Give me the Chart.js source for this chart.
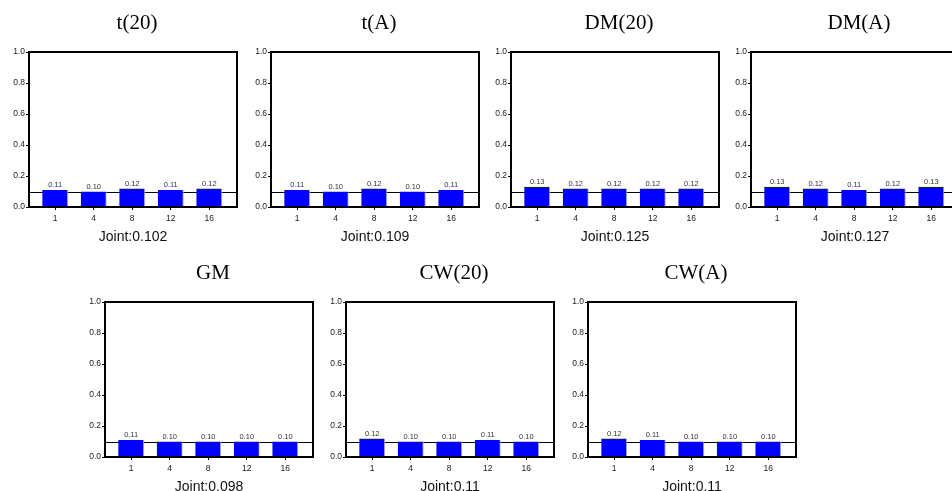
<!DOCTYPE html>
<html>
<head>
<meta charset="utf-8">
<script src="https://cdn.jsdelivr.net/npm/chart.js@4.4.0/dist/chart.umd.min.js"></script>
<style>
  html, body { margin: 0; padding: 0; background: #fff; width: 952px; height: 491px; overflow: hidden; }
  .panel { position: absolute; width: 240px; height: 250px; }
</style>
</head>
<body>
<div id="wrap"></div>
<script>
// lags on the x axis
const LAGS = ["1", "4", "8", "12", "16"];
const Y_TICKS = [0, 0.2, 0.4, 0.6, 0.8, 1.0];
const REF_LEVEL = 0.1;

const TITLES = ["t(20)", "t(A)", "DM(20)", "DM(A)", "GM", "CW(20)", "CW(A)"];
const JOINT = ["0.102", "0.109", "0.125", "0.127", "0.098", "0.11", "0.11"];

const T20 = [0.11, 0.10, 0.12, 0.11, 0.12];
const TA = [0.11, 0.10, 0.12, 0.10, 0.11];
const DM20 = [0.13, 0.12, 0.12, 0.12, 0.12];
const DMA = [0.13, 0.12, 0.11, 0.12, 0.13];
const GM = [0.11, 0.10, 0.10, 0.10, 0.10];
const CW20 = [0.12, 0.10, 0.10, 0.11, 0.10];
const CWA = [0.12, 0.11, 0.10, 0.10, 0.10];

const SERIES = [T20, TA, DM20, DMA, GM, CW20, CWA];

// plot-area left edge and row top for each panel
const PANEL_POS = [
  [29, 0], [271, 0], [511, 0], [751, 0],
  [105, 250], [346, 250], [588, 250]
];

const SANS = "'Liberation Sans', Arial, sans-serif";
const SERIF = "'Liberation Serif', 'Times New Roman', serif";

const frameAndText = {
  id: "frameAndText",
  beforeDatasetsDraw(chart) {
    const { ctx, chartArea, scales } = chart;
    const y = Math.round(scales.y.getPixelForValue(REF_LEVEL)) + 0.5;
    ctx.save();
    ctx.strokeStyle = "#000";
    ctx.lineWidth = 1;
    ctx.beginPath();
    ctx.moveTo(chartArea.left, y);
    ctx.lineTo(chartArea.right, y);
    ctx.stroke();
    ctx.restore();
  },
  afterDatasetsDraw(chart) {
    const { ctx } = chart;
    const meta = chart.getDatasetMeta(0);
    const values = chart.data.datasets[0].data;
    ctx.save();
    ctx.fillStyle = "#333";
    ctx.font = "7.5px " + SANS;
    ctx.textAlign = "center";
    ctx.textBaseline = "bottom";
    meta.data.forEach((bar, i) => {
      ctx.fillText(values[i].y.toFixed(2), bar.x, bar.y - 1);
    });
    ctx.restore();
  },
  afterDraw(chart) {
    const { ctx, chartArea } = chart;
    const opts = chart.options.plugins.frameAndText;
    ctx.save();
    ctx.strokeStyle = "#000";
    ctx.lineWidth = 2;
    ctx.strokeRect(chartArea.left, chartArea.top, chartArea.right - chartArea.left, chartArea.bottom - chartArea.top);
    const cx = (chartArea.left + chartArea.right) / 2;
    ctx.fillStyle = "#000";
    ctx.textAlign = "center";
    ctx.textBaseline = "middle";
    ctx.font = "21px " + SERIF;
    ctx.fillText(opts.title, cx + 4, 23);
    ctx.fillStyle = "#111";
    ctx.font = "14px " + SANS;
    ctx.fillText("Joint:" + opts.joint, cx, 237);
    ctx.restore();
  }
};

function makePanel(index) {
  const [plotLeft, top] = PANEL_POS[index];
  const div = document.createElement("div");
  div.className = "panel";
  div.style.left = (plotLeft - 29) + "px";
  div.style.top = top + "px";
  const canvas = document.createElement("canvas");
  canvas.width = 240;
  canvas.height = 250;
  div.appendChild(canvas);
  document.getElementById("wrap").appendChild(div);

  new Chart(canvas, {
    type: "bar",
    data: {
      datasets: [{
        data: SERIES[index].map((v, i) => ({ x: i, y: v })),
        backgroundColor: "#0000ff",
        borderColor: "#b4b4b4",
        borderWidth: { left: 0, right: 1, top: 0, bottom: 0 },
        barPercentage: 0.675,
        categoryPercentage: 1
      }]
    },
    options: {
      responsive: false,
      animation: false,
      layout: { padding: { top: 52, right: 3, left: 0, bottom: 0 } },
      plugins: {
        legend: { display: false },
        tooltip: { enabled: false },
        frameAndText: { title: TITLES[index], joint: JOINT[index] }
      },
      scales: {
        x: {
          type: "linear",
          offset: false,
          min: -0.68,
          max: 4.72,
          afterBuildTicks: (scale) => { scale.ticks = LAGS.map((_, i) => ({ value: i })); },
          afterFit: (scale) => { scale.height = 43; },
          grid: { offset: false, drawOnChartArea: false, drawTicks: true, tickLength: 3, color: "#000" },
          border: { display: false },
          ticks: {
            callback: (v) => LAGS[v],
            font: { family: SANS, size: 8.5 },
            color: "#222",
            padding: 4,
            maxRotation: 0
          }
        },
        y: {
          min: 0,
          max: 1,
          afterBuildTicks: (scale) => { scale.ticks = Y_TICKS.map((v) => ({ value: v })); },
          afterFit: (scale) => { scale.width = 29; },
          grid: { drawOnChartArea: false, drawTicks: true, tickLength: 3, color: "#000" },
          border: { display: false },
          ticks: {
            callback: (v) => Number(v).toFixed(1),
            font: { family: SANS, size: 8.5 },
            color: "#222",
            padding: 1
          }
        }
      }
    },
    plugins: [frameAndText]
  });
}

SERIES.forEach((_, i) => makePanel(i));
</script>
</body>
</html>
